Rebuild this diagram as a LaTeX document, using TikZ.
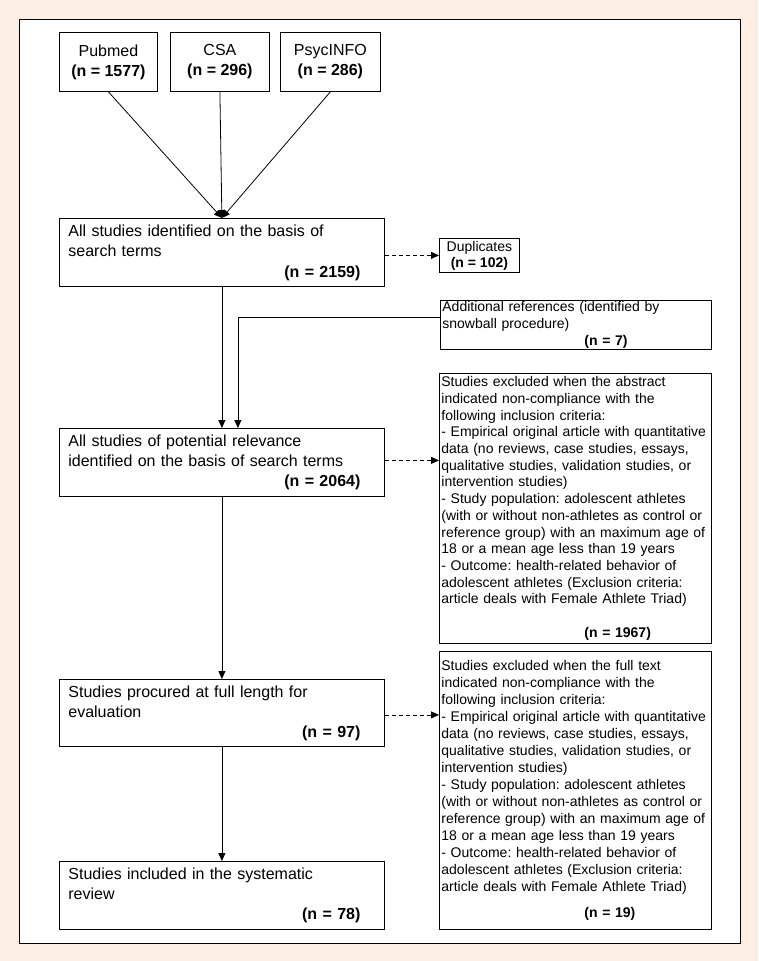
\documentclass[tikz,border=0pt]{standalone}
\usepackage{fontspec}
\setmainfont{Liberation Sans}
\usetikzlibrary{arrows.meta}
\definecolor{peach}{RGB}{253,238,228}
\newcommand{\nline}[1]{\hspace*{\fill}\textbf{#1}\rule{15pt}{0pt}}
\begin{document}
\frenchspacing
\begin{tikzpicture}[x=1pt,y=-1pt,
  box/.style={draw=black,line width=0.8pt,fill=white,anchor=north west,inner ysep=0pt},
  mainbox/.style={box,text width=307pt,inner xsep=9pt,minimum height=68pt,align=left,font=\fontsize{16}{20}\selectfont},
  srcbox/.style={box,minimum height=59pt,align=center,inner xsep=2pt,font=\fontsize{16}{20}\selectfont},
  dupbox/.style={box,minimum width=80pt,minimum height=34pt,align=center,inner xsep=2pt,font=\fontsize{14}{16}\selectfont},
  sidebox/.style={box,text width=268pt,inner xsep=2pt,align=left,font=\fontsize{14}{16.7}\selectfont},
  arr/.style={-{Triangle[length=8pt,width=7pt]},line width=0.8pt},
  darr/.style={arr,dash pattern=on 4pt off 3pt}]
\fill[peach] (0,0) rectangle (758,961);
\useasboundingbox (0,0) rectangle (758,961);
\draw[fill=white,line width=0.9pt] (19,19) rectangle (740,943);

% source boxes
\node[srcbox,minimum width=98pt] (pub) at (59,32) {Pubmed\\\textbf{(n = 1577)}};
\node[srcbox,minimum width=99pt] (csa) at (170,32) {CSA\\\textbf{(n = 296)}};
\node[srcbox,minimum width=100pt] (psy) at (280,32) {PsycINFO\\\textbf{(n = 286)}};

% main column
\node[mainbox] (b1) at (59,218) {All studies identified on the basis of\\search terms\\[1pt]\nline{(n = 2159)}};
\node[mainbox] (b2) at (59,428) {All studies of potential relevance\\identified on the basis of search terms\\\nline{(n = 2064)}};
\node[mainbox,minimum height=67pt] (b3) at (59,679) {Studies procured at full length for\\evaluation\\\nline{(n = 97)}};
\node[mainbox] (b4) at (59,861) {Studies included in the systematic\\review\\\nline{(n = 78)}};

% side column
\node[dupbox] (dup) at (439,238) {Duplicates\\\textbf{(n = 102)}};
\node[sidebox,text width=267pt,minimum height=49pt,font=\fontsize{14}{17}\selectfont] (add) at (440,300) {Additional references (identified by\\snowball procedure)\\\hspace*{142pt}\textbf{(n = 7)}};
\node[sidebox,minimum height=270pt] (exc1) at (439,373) {Studies excluded when the abstract\\indicated non-compliance with the\\following inclusion criteria:\\- Empirical original article with quantitative\\data (no reviews, case studies, essays,\\qualitative studies, validation studies, or\\intervention studies)\\- Study population: adolescent athletes\\(with or without non-athletes as control or\\reference group) with an maximum age of\\18 or a mean age less than 19 years\\- Outcome: health-related behavior of\\adolescent athletes (Exclusion criteria:\\article deals with Female Athlete Triad)\\[16.7pt]\hspace*{143pt}\textbf{(n = 1967)}};
\node[sidebox,minimum height=278pt,font=\fontsize{14}{17}\selectfont] (exc2) at (439,651) {Studies excluded when the full text\\indicated non-compliance with the\\following inclusion criteria:\\- Empirical original article with quantitative\\data (no reviews, case studies, essays,\\qualitative studies, validation studies, or\\intervention studies)\\- Study population: adolescent athletes\\(with or without non-athletes as control or\\reference group) with an maximum age of\\18 or a mean age less than 19 years\\- Outcome: health-related behavior of\\adolescent athletes (Exclusion criteria:\\article deals with Female Athlete Triad)\\[9pt]\hspace*{143pt}\textbf{(n = 19)}};

% connectors
\draw[arr] (pub.south) -- (b1.north);
\draw[arr] (csa.south) -- (b1.north);
\draw[arr] (psy.south) -- (b1.north);
\draw[arr] (b1.south) -- (b2.north);
\coordinate (addin) at ([xshift=16pt]b2.north);
\draw[arr] ([yshift=7.5pt]add.west) -| (addin);
\draw[arr] (b2.south) -- (b3.north);
\draw[arr] (b3.south) -- (b4.north);
\draw[darr] (dup.west -| b1.east) -- (dup.west);
\draw[darr] ([yshift=2pt]b2.east) -- ([yshift=2pt]b2.east -| exc1.west);
\draw[darr] ([yshift=-2pt]b3.east) -- ([yshift=-2pt]b3.east -| exc2.west);
\end{tikzpicture}
\end{document}
